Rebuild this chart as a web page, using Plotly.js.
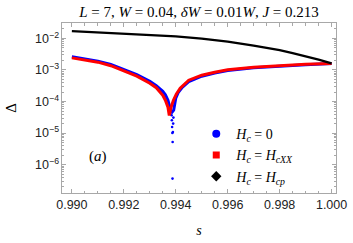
<!DOCTYPE html>
<html><head><meta charset="utf-8">
<script src="https://cdn.plot.ly/plotly-3.0.1.min.js"></script>
<style>html,body{margin:0;padding:0;background:#fff;}#chart{width:353px;height:243px;}</style>
</head><body><div id="chart"></div>
<script>
// H_c = H_cp (black)
const sBlack = [0.9900,0.9910,0.9920,0.9930,0.9940,0.9950,0.9960,0.9970,0.9980,0.9985,0.9990,0.9995,1.0000];
const dBlack = [0.01706,0.01563,0.01419,0.01291,0.01156,0.00986,0.00791,0.00590,0.00426,0.00341,0.00274,0.00212,0.00161];
// H_c = H_cXX (red)
const sRed = [0.99000,0.99050,0.99100,0.99150,0.99200,0.99250,0.99300,0.99325,0.99350,0.99360,0.99370,0.99375,0.99382,0.99391,0.99402,0.99417,0.99450,0.99500,0.99550,0.99600,0.99700,0.99800,0.99900,1.00000];
const dRed = [2.42e-3,2.08e-3,1.77e-3,1.37e-3,9.51e-4,6.36e-4,3.81e-4,2.74e-4,1.58e-4,1.10e-4,6.59e-5,3.6e-5,6.6e-5,1.10e-4,1.71e-4,2.64e-4,4.74e-4,6.84e-4,8.51e-4,1.02e-3,1.23e-3,1.40e-3,1.51e-3,1.61e-3];
// H_c = 0 (blue)
const sBlue = [0.99000,0.99050,0.99100,0.99150,0.99200,0.99250,0.99300,0.99325,0.99350,0.99360,0.99370,0.99378,0.99383,0.99392,0.99395,0.99400,0.99410,0.99425,0.99450,0.99500,0.99550,0.99600,0.99700,0.99800,0.99900,1.00000];
const dBlue = [2.64e-3,2.23e-3,1.90e-3,1.50e-3,1.06e-3,7.19e-4,4.41e-4,3.18e-4,2.12e-4,1.64e-4,1.10e-4,6.6e-5,4.3e-5,5.3e-5,8.2e-5,1.27e-4,1.97e-4,2.84e-4,4.26e-4,6.35e-4,8.03e-4,9.64e-4,1.18e-3,1.35e-3,1.47e-3,1.61e-3];
// blue samples inside the sharp dip
const sBlueDip = [0.99384,0.99385,0.99386,0.99387,0.993875,0.99388,0.99389,0.99390,0.99391];
const dBlueDip = [3.67e-5,2.55e-5,1.56e-5,1.01e-5,3.6e-7,5.21e-6,1.08e-5,2.00e-5,3.10e-5];

const legendNames = ['<i>H<sub>c</sub></i> = 0', '<i>H<sub>c</sub></i> = <i>H<sub>cXX</sub></i>', '<i>H<sub>c</sub></i> = <i>H<sub>cp</sub></i>'];

const serif = 'Liberation Serif, DejaVu Serif, serif';
const sans = 'Liberation Sans, Arial, sans-serif';

const traces = [
  {x: sBlue, y: dBlue, mode: 'lines', line: {color: '#0000ff', width: 3}, showlegend: false, hoverinfo: 'skip'},
  {x: sBlueDip, y: dBlueDip, mode: 'markers', marker: {color: '#0000ff', size: 2.6}, showlegend: false, hoverinfo: 'skip'},
  {x: sRed, y: dRed, mode: 'lines', line: {color: '#ff0000', width: 3}, showlegend: false, hoverinfo: 'skip'},
  {x: sBlack, y: dBlack, mode: 'lines', line: {color: '#000000', width: 2.3}, showlegend: false, hoverinfo: 'skip'},
  {x: [null], y: [null], mode: 'markers', name: legendNames[0], marker: {color: '#0000ff', size: 8, symbol: 'circle'}},
  {x: [null], y: [null], mode: 'markers', name: legendNames[1], marker: {color: '#ff0000', size: 7, symbol: 'square'}},
  {x: [null], y: [null], mode: 'markers', name: legendNames[2], marker: {color: '#000000', size: 8, symbol: 'diamond'}}
];

const axisCommon = {
  showline: true, linecolor: '#a8a8a8', linewidth: 1, mirror: 'ticks',
  ticks: 'inside', tickcolor: '#a8a8a8', ticklen: 4, tickwidth: 1,
  showgrid: false, zeroline: false, automargin: false
};

const layout = {
  width: 353, height: 243,
  margin: {l: 62, r: 17, t: 23, b: 50},
  paper_bgcolor: '#fff', plot_bgcolor: '#fff',
  title: {text: '<i>L</i> = 7, <i>W</i> = 0.04, <i>δW</i> = 0.01<i>W</i>, <i>J</i> = 0.213',
          x: 0.5, xref: 'paper', xanchor: 'center', y: 1 - 11.5/243, yref: 'container', yanchor: 'middle',
          font: {family: serif, size: 15, color: '#000'}},
  xaxis: Object.assign({}, axisCommon, {
    range: [0.98962, 1.00017], tick0: 0.990, dtick: 0.002, tickformat: '.3f',
    tickfont: {family: sans, size: 12.5, color: '#222'},
    minor: {dtick: 0.0005, ticks: 'inside', ticklen: 2.5, tickcolor: '#a8a8a8', showgrid: false},
    title: {text: '<i>s</i>', font: {family: serif, size: 14, color: '#000'}, standoff: 14}
  }),
  yaxis: Object.assign({}, axisCommon, {
    type: 'log', range: [-6.90, -1.51], tick0: 0, dtick: 1, exponentformat: 'power',
    tickfont: {family: sans, size: 10, color: '#222'},
    minor: {dtick: 'D1', ticks: 'inside', ticklen: 2, tickcolor: '#a8a8a8', showgrid: false},
    title: {text: 'Δ', font: {family: serif, size: 15, color: '#000'}, standoff: 14}
  }),
  legend: {x: 0.49, xanchor: 'left', y: 0.44, yanchor: 'top', bgcolor: 'rgba(0,0,0,0)',
           font: {family: serif, size: 14, color: '#000'}, itemwidth: 30, tracegroupgap: 0},
  annotations: [{text: '(<i>a</i>)', x: 0.091, y: 0.153, xref: 'paper', yref: 'paper',
                 showarrow: false, font: {family: serif, size: 15, color: '#000'}}]
};

Plotly.newPlot('chart', traces, layout, {staticPlot: true, displayModeBar: false});
</script>
</body></html>
